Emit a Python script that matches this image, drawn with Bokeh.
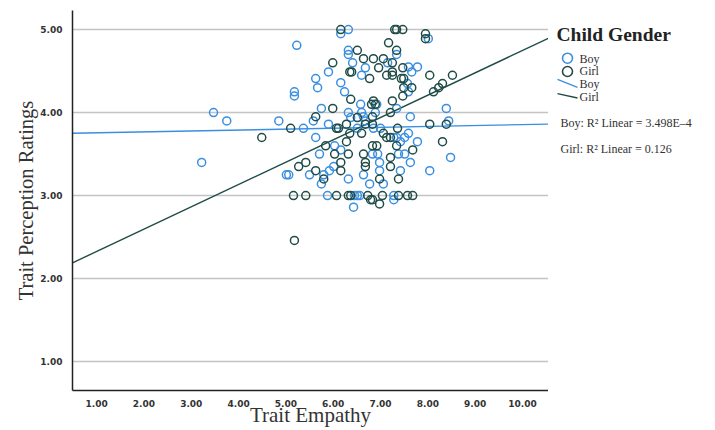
from bokeh.plotting import figure
from bokeh.layouts import row
from bokeh.models import Range1d, FixedTicker, PrintfTickFormatter
from bokeh.core.properties import value
from bokeh.embed import file_html
from bokeh.resources import INLINE

# ---------------- data ----------------
boy_empathy = [3.22, 3.47, 3.75, 4.85, 5.23, 5.18, 5.18, 5.37, 5.01, 5.06, 5.50, 5.63, 5.67, 5.90,
               6.16, 6.24, 6.58, 5.75, 5.58, 5.90, 6.32, 6.37, 6.60, 6.64, 5.63, 6.03, 6.16, 5.71,
               6.32, 6.32, 6.32, 6.41, 6.68, 6.60, 8.01, 7.34, 7.15, 7.59, 7.66, 7.78, 7.57, 7.59,
               6.92, 7.34, 8.39, 8.44, 7.63, 6.89, 6.68, 7.00, 6.51, 6.85, 7.28, 7.34, 7.51, 7.59,
               7.42, 7.78, 7.38, 7.51, 6.83, 6.94, 8.48, 6.98, 7.63, 6.98, 7.42, 8.04, 6.64, 7.06,
               6.77, 6.32, 5.80, 5.75, 5.92, 6.01, 5.88, 6.45, 6.51, 6.56, 7.28, 7.28, 6.43, 6.16]
boy_rating = [3.40, 4.00, 3.90, 3.90, 4.81, 4.25, 4.20, 3.81, 3.25, 3.25, 3.25, 4.41, 4.30, 4.49,
              4.36, 4.25, 4.10, 4.05, 3.90, 3.86, 4.00, 3.94, 4.00, 3.95, 3.70, 3.60, 3.55, 3.50,
              5.00, 4.75, 4.70, 4.60, 4.54, 4.45, 4.89, 4.70, 4.60, 4.55, 4.49, 4.55, 4.35, 4.25,
              4.10, 4.05, 4.05, 3.90, 3.95, 4.00, 3.90, 3.81, 3.81, 3.81, 3.70, 3.70, 3.70, 3.75,
              3.65, 3.65, 3.50, 3.50, 3.50, 3.50, 3.46, 3.40, 3.40, 3.30, 3.30, 3.30, 3.25, 3.14,
              3.14, 3.20, 3.25, 3.14, 3.30, 3.35, 3.00, 3.00, 3.00, 3.00, 3.00, 2.95, 2.86, 4.95]

girl_empathy = [4.49, 5.10, 5.63, 5.99, 5.99, 6.07, 6.11, 6.37, 6.51, 6.28, 5.84, 6.28, 6.35, 6.60,
                6.03, 6.32, 6.64, 6.16, 6.51, 6.64, 6.35, 6.39, 6.77, 7.30, 7.34, 7.47, 7.95, 7.95,
                7.17, 7.34, 6.85, 7.06, 7.25, 6.96, 7.25, 7.25, 7.13, 7.47, 7.44, 7.49, 7.49, 7.66,
                7.47, 8.04, 8.52, 8.31, 8.23, 8.12, 7.25, 6.85, 6.81, 6.89, 7.21, 8.39, 8.04, 6.83,
                6.68, 6.83, 7.36, 7.06, 7.13, 7.21, 8.31, 7.34, 6.83, 6.92, 7.68, 7.21, 7.21, 6.68,
                6.68, 7.38, 6.98, 6.16, 6.16, 5.27, 5.42, 5.63, 5.80,
                5.16, 5.42, 6.07, 6.32, 6.37, 6.73, 7.04, 7.38, 7.57, 7.68, 6.79, 6.83, 6.98, 5.18]
girl_rating = [3.70, 3.81, 3.95, 4.05, 4.60, 3.81, 3.81, 4.16, 3.94, 3.86, 3.60, 3.65, 3.75, 3.75,
               3.50, 3.50, 3.50, 5.00, 4.75, 4.65, 4.49, 4.49, 4.41, 5.00, 5.00, 5.00, 4.95, 4.89,
               4.84, 4.75, 4.65, 4.65, 4.60, 4.54, 4.49, 4.45, 4.45, 4.54, 4.41, 4.41, 4.30, 4.30,
               4.20, 4.45, 4.45, 4.35, 4.30, 4.25, 4.14, 4.14, 4.10, 4.10, 4.00, 3.86, 3.86, 3.95,
               3.86, 3.86, 3.81, 3.75, 3.70, 3.70, 3.65, 3.60, 3.60, 3.60, 3.55, 3.46, 3.35, 3.35,
               3.40, 3.20, 3.20, 3.40, 3.30, 3.35, 3.40, 3.30, 3.20,
               3.00, 3.00, 3.00, 3.00, 3.00, 3.00, 3.00, 3.00, 3.00, 3.00, 2.95, 2.95, 2.90, 2.46]

# linear fits (intercept, slope)
boy_fit = (3.745, 0.011)
girl_fit = (2.058, 0.269)
x_min, x_max = 0.49, 10.55
y_min, y_max = 0.652, 5.23
fit_range = [x_min, x_max]

x_ticks = [1, 2, 3, 4, 5, 6, 7, 8, 9, 10]
y_ticks = [1, 2, 3, 4, 5]

x_title = "Trait Empathy"
y_title = "Trait Perception Ratings"
legend_title = "Child Gender"
legend_labels = ["Boy", "Girl"]
r2_texts = ["Boy: R\u00b2 Linear = 3.498E\u20134", "Girl: R\u00b2 Linear = 0.126"]

BOY_C = "#3a8fe0"
GIRL_C = "#1f4c46"
SERIF = "Liberation Serif"
TXT = "#333333"

# ---------------- main plot ----------------
p = figure(width=548, height=430, output_backend="svg", toolbar_location=None,
           x_range=Range1d(x_min, x_max), y_range=Range1d(y_min, y_max),
           min_border_left=72, min_border_right=0, min_border_top=10, min_border_bottom=40)
p.outline_line_color = None
p.xgrid.grid_line_color = None
p.ygrid.grid_line_color = "#c4c4c4"
p.ygrid.grid_line_width = 1.5
p.ygrid.ticker = FixedTicker(ticks=y_ticks)

for ax in (p.xaxis, p.yaxis):
    ax.axis_line_color = "#222222"
    ax.axis_line_width = 1.5
    ax.major_tick_line_color = None
    ax.minor_tick_line_color = None
    ax.major_label_text_font = "DejaVu Sans"
    ax.major_label_text_font_size = "9px"
    ax.major_label_text_font_style = "bold"
    ax.major_label_text_color = TXT
    ax.formatter = PrintfTickFormatter(format="%.2f")
    ax.axis_label_text_font = SERIF
    ax.axis_label_text_font_style = "normal"
    ax.axis_label_text_color = TXT

p.xaxis.ticker = FixedTicker(ticks=x_ticks)
p.yaxis.ticker = FixedTicker(ticks=y_ticks)
p.xaxis.axis_label = x_title
p.yaxis.axis_label = y_title
p.xaxis.axis_label_text_font_size = "21px"
p.yaxis.axis_label_text_font_size = "20.5px"
p.xaxis.major_label_standoff = 3
p.yaxis.major_label_standoff = 4
p.xaxis.axis_label_standoff = -7
p.yaxis.axis_label_standoff = 0

# fit lines
p.line(fit_range, [boy_fit[0] + boy_fit[1] * x for x in fit_range], line_color=BOY_C, line_width=1.4)
p.line(fit_range, [girl_fit[0] + girl_fit[1] * x for x in fit_range], line_color=GIRL_C, line_width=1.4)

p.scatter(boy_empathy, boy_rating, marker="circle", size=8, fill_color=None,
          line_color=BOY_C, line_width=1.5)
p.scatter(girl_empathy, girl_rating, marker="circle", size=8, fill_color=None,
          line_color=GIRL_C, line_width=1.5)

# ---------------- legend panel ----------------
lg = figure(width=167, height=430, output_backend="svg", toolbar_location=None,
            x_range=Range1d(0, 167), y_range=Range1d(430, 0),
            min_border=0, min_border_left=0, min_border_right=0,
            min_border_top=0, min_border_bottom=0)
lg.axis.visible = False
lg.grid.visible = False
lg.outline_line_color = None

lg.text([8], [27], text=[legend_title], text_font=value(SERIF), text_font_size="19.5px",
        text_font_style="bold", text_color="#222222", text_baseline="middle")
lg.scatter([19], [54], marker="circle", size=10, fill_color=None, line_color=BOY_C, line_width=1.6)
lg.scatter([19], [69], marker="circle", size=10, fill_color=None, line_color=GIRL_C, line_width=1.6)
lg.line([9, 29], [78, 87], line_color=BOY_C, line_width=1.4)
lg.line([9, 29], [94, 99], line_color=GIRL_C, line_width=1.4)
lg.text([31, 31, 31, 31], [55, 69, 83, 98], text=legend_labels + legend_labels,
        text_font=value(SERIF), text_font_size="12px", text_color=TXT, text_baseline="middle")
lg.text([12, 12], [127, 157], text=r2_texts, text_font=value(SERIF), text_font_size="12px",
        text_color=TXT, text_baseline="middle")

layout = row(p, lg, spacing=0)
open("out.html", "w").write(file_html(layout, INLINE))
